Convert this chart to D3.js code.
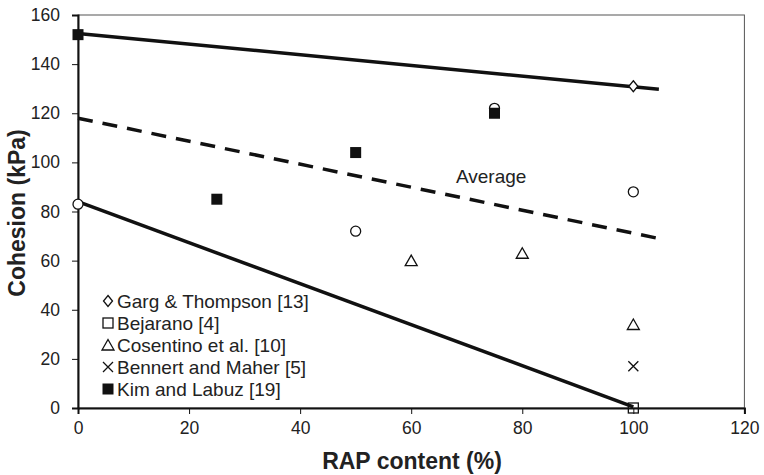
<!DOCTYPE html>
<html>
<head>
<title>Cohesion vs RAP</title>
<script src="https://d3js.org/d3.v7.min.js"></script>
<style>
  body { margin: 0; background: #fff; }
  text { font-family: "Liberation Sans", Arial, sans-serif; fill: #222; }
</style>
</head>
<body>
<div id="chart"></div>
<script>
// data
var xTicks = [0, 20, 40, 60, 80, 100, 120];
var yTicks = [0, 20, 40, 60, 80, 100, 120, 140, 160];

var gargThompson = [{x: 100, y: 131}];
var bejarano = [{x: 100, y: 0}];
var cosentino = [{x: 60, y: 60}, {x: 80, y: 63}, {x: 100, y: 34}];
var bennertMaher = [{x: 100, y: 17}];
var kimLabuz = [{x: 0, y: 152}, {x: 25, y: 85}, {x: 50, y: 104}, {x: 75, y: 120}];
var otherCircles = [{x: 0, y: 83}, {x: 50, y: 72}, {x: 75, y: 122}, {x: 100, y: 88}];

var upperLine = [{x: 0, y: 152.5}, {x: 104.6, y: 129.8}];
var lowerLine = [{x: 0, y: 84}, {x: 100, y: 0.5}];
var averageLine = [{x: 0, y: 118}, {x: 104.6, y: 69}];

var legendNames = ["Garg & Thompson [13]", "Bejarano [4]", "Cosentino et al. [10]", "Bennert and Maher [5]", "Kim and Labuz [19]"];
var legendSymbols = ["diamond", "square", "triangle", "cross", "filled"];

var W = 764, H = 475;
var margin = {top: 15, right: 20, bottom: 67, left: 78};

var svg = d3.select("#chart").append("svg")
    .attr("width", W).attr("height", H)
  .append("g")
    .attr("transform", "translate(" + margin.left + "," + margin.top + ")");

var x = d3.scaleLinear().domain([0, 120]).range([0, 666.4]);
var y = d3.scaleLinear().domain([0, 160]).range([393, 0]);

// frame (thin top/right)
svg.append("rect")
  .attr("x", 0).attr("y", 0)
  .attr("width", x(120)).attr("height", y(0))
  .attr("fill", "none").attr("stroke", "#555").attr("stroke-width", 1);

// axes
var xAxis = svg.append("g")
  .attr("transform", "translate(0," + y(0) + ")")
  .call(d3.axisBottom(x).tickValues(xTicks).tickSize(6).tickPadding(8));
var yAxis = svg.append("g")
  .call(d3.axisLeft(y).tickValues(yTicks).tickSize(6).tickPadding(12));

[xAxis, yAxis].forEach(function(a) {
  a.select(".domain").attr("stroke", "#111").attr("stroke-width", 2);
  a.selectAll(".tick line").attr("stroke", "#111").attr("stroke-width", 1);
  a.selectAll(".tick text").attr("font-size", 17.5).attr("fill", "#222")
    .attr("font-family", "Liberation Sans, Arial, sans-serif");
});

// axis titles
svg.append("text")
  .attr("x", 334).attr("y", 454)
  .attr("text-anchor", "middle")
  .attr("font-size", 23).attr("font-weight", "bold")
  .text("RAP content (%)");
svg.append("text")
  .attr("transform", "translate(-53," + 198 + ") rotate(-90)")
  .attr("text-anchor", "middle")
  .attr("font-size", 23).attr("font-weight", "bold")
  .text("Cohesion (kPa)");

// trend lines
var line = d3.line().x(function(d) { return x(d.x); }).y(function(d) { return y(d.y); });
svg.append("path").datum(upperLine).attr("d", line)
  .attr("fill", "none").attr("stroke", "#111").attr("stroke-width", 3.5);
svg.append("path").datum(lowerLine).attr("d", line)
  .attr("fill", "none").attr("stroke", "#111").attr("stroke-width", 3.5);
svg.append("path").datum(averageLine).attr("d", line)
  .attr("fill", "none").attr("stroke", "#111").attr("stroke-width", 3.5)
  .attr("stroke-dasharray", "15,10");

svg.append("text")
  .attr("x", x(74.4)).attr("y", y(91.5))
  .attr("text-anchor", "middle").attr("font-size", 19)
  .text("Average");

// markers
function drawSymbol(g, kind, px, py) {
  if (kind === "diamond") {
    g.append("path").attr("d", "M0,-5.5L4.5,0L0,5.5L-4.5,0Z")
      .attr("transform", "translate(" + px + "," + py + ")")
      .attr("fill", "#fff").attr("stroke", "#111").attr("stroke-width", 1.3);
  } else if (kind === "square") {
    g.append("rect").attr("x", px - 5).attr("y", py - 5).attr("width", 10).attr("height", 10)
      .attr("fill", "none").attr("stroke", "#111").attr("stroke-width", 1.3);
  } else if (kind === "triangle") {
    g.append("path").attr("d", "M0,-5.5L6,5L-6,5Z")
      .attr("transform", "translate(" + px + "," + py + ")")
      .attr("fill", "#fff").attr("stroke", "#111").attr("stroke-width", 1.3);
  } else if (kind === "cross") {
    g.append("path").attr("d", "M-5,-5L5,5M-5,5L5,-5")
      .attr("transform", "translate(" + px + "," + py + ")")
      .attr("fill", "none").attr("stroke", "#111").attr("stroke-width", 1.3);
  } else if (kind === "filled") {
    g.append("rect").attr("x", px - 5.5).attr("y", py - 5.5).attr("width", 11).attr("height", 11)
      .attr("fill", "#111");
  } else if (kind === "circle") {
    g.append("circle").attr("cx", px).attr("cy", py).attr("r", 5)
      .attr("fill", "#fff").attr("stroke", "#111").attr("stroke-width", 1.3);
  }
}

var marks = svg.append("g");
otherCircles.forEach(function(d) { drawSymbol(marks, "circle", x(d.x), y(d.y)); });
gargThompson.forEach(function(d) { drawSymbol(marks, "diamond", x(d.x), y(d.y)); });
bejarano.forEach(function(d) { drawSymbol(marks, "square", x(d.x), y(d.y)); });
cosentino.forEach(function(d) { drawSymbol(marks, "triangle", x(d.x), y(d.y)); });
bennertMaher.forEach(function(d) { drawSymbol(marks, "cross", x(d.x), y(d.y)); });
kimLabuz.forEach(function(d) { drawSymbol(marks, "filled", x(d.x), y(d.y)); });

// legend
var legend = svg.append("g").attr("transform", "translate(30,286)");
legendNames.forEach(function(name, i) {
  var ly = i * 22;
  drawSymbol(legend, legendSymbols[i], 0, ly);
  legend.append("text").attr("x", 9).attr("y", ly + 7)
    .attr("font-size", 19).text(name);
});
</script>
</body>
</html>
